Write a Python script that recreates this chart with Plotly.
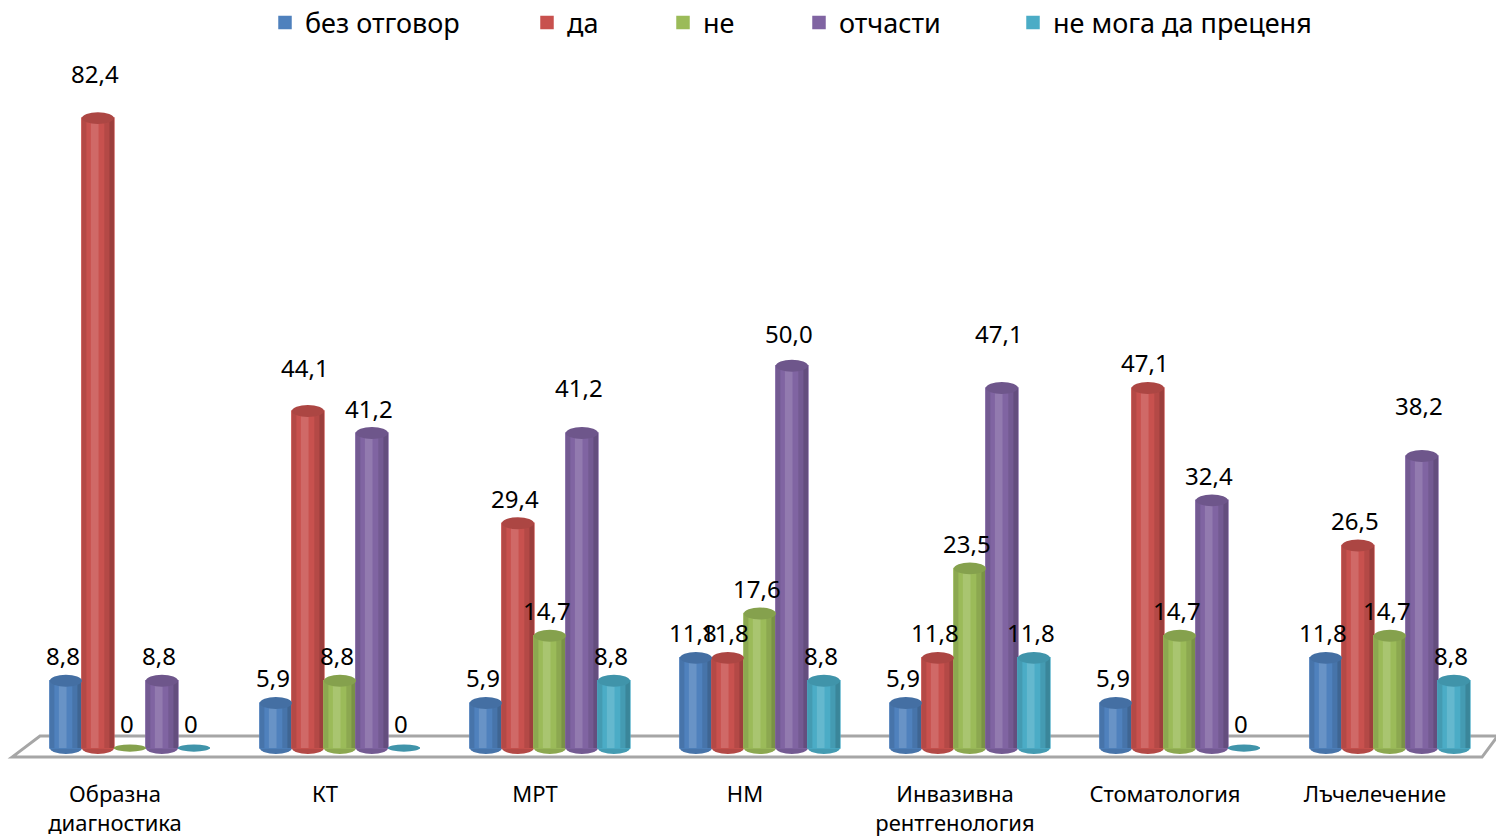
import plotly.graph_objects as go

# Survey answers (%) per imaging specialty
categories = ["Образна<br>диагностика", "КТ", "МРТ", "НМ",
              "Инвазивна<br>рентгенология", "Стоматология", "Лъчелечение"]
series_names = ["без отговор", "да", "не", "отчасти", "не мога да преценя"]

no_answer = [8.8, 5.9, 5.9, 11.8, 5.9, 5.9, 11.8]
yes = [82.4, 44.1, 29.4, 11.8, 11.8, 47.1, 26.5]
no = [0, 8.8, 14.7, 17.6, 23.5, 14.7, 14.7]
partly = [8.8, 41.2, 41.2, 50.0, 47.1, 32.4, 38.2]
cannot_judge = [0, 0, 8.8, 8.8, 11.8, 0, 8.8]

series_values = [no_answer, yes, no, partly, cannot_judge]
base_colors = ["#4F81BD", "#C8514E", "#9BBB59", "#8064A2", "#4BACC6"]

# extra lift (px) for a few value labels that sit higher
label_lift = {(0, 1): 20, (1, 1): 18, (2, 3): 21, (3, 3): 7, (4, 3): 29, (6, 3): 26}

# left edge (px) of each legend entry along the top row
legend_left_px = [265, 527, 663, 799, 1013]

Y_MIN, Y_MAX = -3, 90
BAR_W = 0.1524          # width of one cylinder in category units
GROUP_SHIFT = 0.071     # the 3-D group sits slightly right of its label
CAP_H = 0.78            # half-height of the elliptical caps in data units
FIG_W, FIG_H = 1496, 838


def hex_rgb(h):
    h = h.lstrip("#")
    return [int(h[i:i + 2], 16) for i in (0, 2, 4)]


def mix(h, target, t):
    r = hex_rgb(h)
    tt = hex_rgb(target)
    return "#" + "".join(f"{round(a + (b - a) * t):02X}" for a, b in zip(r, tt))


fig = go.Figure()
shapes = []


def py(v):
    return (v - Y_MIN) / (Y_MAX - Y_MIN)


# floor of the 3-D plot
fl_front, fl_back = -1.18, 1.57
shapes.append(dict(
    type="path", xref="paper", yref="paper", layer="below",
    path=(f"M 0.0014 {py(fl_front)} L 0.0204 {py(fl_back)} L 1.012 {py(fl_back)} "
          f"L 1.0014 {py(fl_front)} Z"),
    line=dict(color="#A6A6A6", width=3), fillcolor="white"))

x_idx = list(range(len(categories)))
legend_ids = ["legend", "legend2", "legend3", "legend4", "legend5"]

for k, (name, vals, col) in enumerate(zip(series_names, series_values, base_colors)):
    off = GROUP_SHIFT + (k - 2.5) * BAR_W
    dark = mix(col, "#000000", 0.22)
    mid_dark = mix(col, "#000000", 0.10)
    light = mix(col, "#FFFFFF", 0.14)
    cap = mix(col, "#000000", 0.14)

    # cylinder body and its shading strips
    layers = [
        (0.0, 1.0, col, True),
        (0.0, 0.14, mid_dark, False),
        (0.70, 0.30, mid_dark, False),
        (0.86, 0.14, dark, False),
        (0.28, 0.24, light, False),
    ]
    for start, frac, c, show in layers:
        fig.add_trace(go.Bar(
            x=x_idx, y=vals, name=name, legendgroup=name, showlegend=show,
            legend=legend_ids[k],
            offset=off + start * BAR_W, width=frac * BAR_W,
            marker=dict(color=c, line=dict(width=1.5 if show else 0, color=c)),
            hoverinfo=None if show else "skip",
        ))

    for i, v in enumerate(vals):
        x0, x1 = i + off, i + off + BAR_W
        if v > 0:
            # rounded base
            shapes.append(dict(type="circle", xref="x", yref="y", layer="below",
                               x0=x0, x1=x1, y0=-CAP_H, y1=CAP_H,
                               fillcolor=mid_dark, line=dict(width=0)))
            # top cap
            shapes.append(dict(type="circle", xref="x", yref="y", layer="above",
                               x0=x0, x1=x1, y0=v - CAP_H, y1=v + CAP_H,
                               fillcolor=cap, line=dict(width=0)))
        else:
            # a zero value shows only as a flat disc on the floor
            shapes.append(dict(type="circle", xref="x", yref="y", layer="above",
                               x0=x0, x1=x1, y0=v - CAP_H * 0.6, y1=v + CAP_H * 0.6,
                               fillcolor=cap, line=dict(width=0)))

annotations = []
for k, vals in enumerate(series_values):
    off = GROUP_SHIFT + (k - 2) * BAR_W
    for i, v in enumerate(vals):
        txt = "0" if v == 0 else f"{v:.1f}".replace(".", ",")
        annotations.append(dict(
            x=i + off, y=v, xref="x", yref="y", text=txt, showarrow=False,
            xanchor="center", yanchor="middle",
            yshift=25 + label_lift.get((i, k), 0), xshift=-3,
            font=dict(size=24, color="#000000")))

legend_style = dict(orientation="h", xref="container", yref="container",
                    y=1 - 23 / FIG_H, yanchor="middle", xanchor="left",
                    font=dict(size=27), bgcolor="rgba(0,0,0,0)")
legends = {lid: dict(legend_style, x=px / FIG_W)
           for lid, px in zip(legend_ids, legend_left_px)}

fig.update_layout(
    width=FIG_W, height=FIG_H,
    margin=dict(l=10, r=16, t=60, b=67, autoexpand=False),
    paper_bgcolor="white", plot_bgcolor="rgba(0,0,0,0)",
    barmode="overlay",
    font=dict(family="Noto Sans, DejaVu Sans, sans-serif", color="#000000"),
    shapes=shapes, annotations=annotations,
    showlegend=True,
    xaxis=dict(range=[-0.5, 6.5], tickmode="array", tickvals=x_idx, ticktext=categories,
               showgrid=False, zeroline=False, showline=False, ticks="",
               tickfont=dict(size=22), ticklabelstandoff=8, fixedrange=True),
    yaxis=dict(range=[Y_MIN, Y_MAX], showgrid=False, zeroline=False, showline=False,
               showticklabels=False, ticks="", fixedrange=True),
    **legends,
)

fig.write_html("out.html")
